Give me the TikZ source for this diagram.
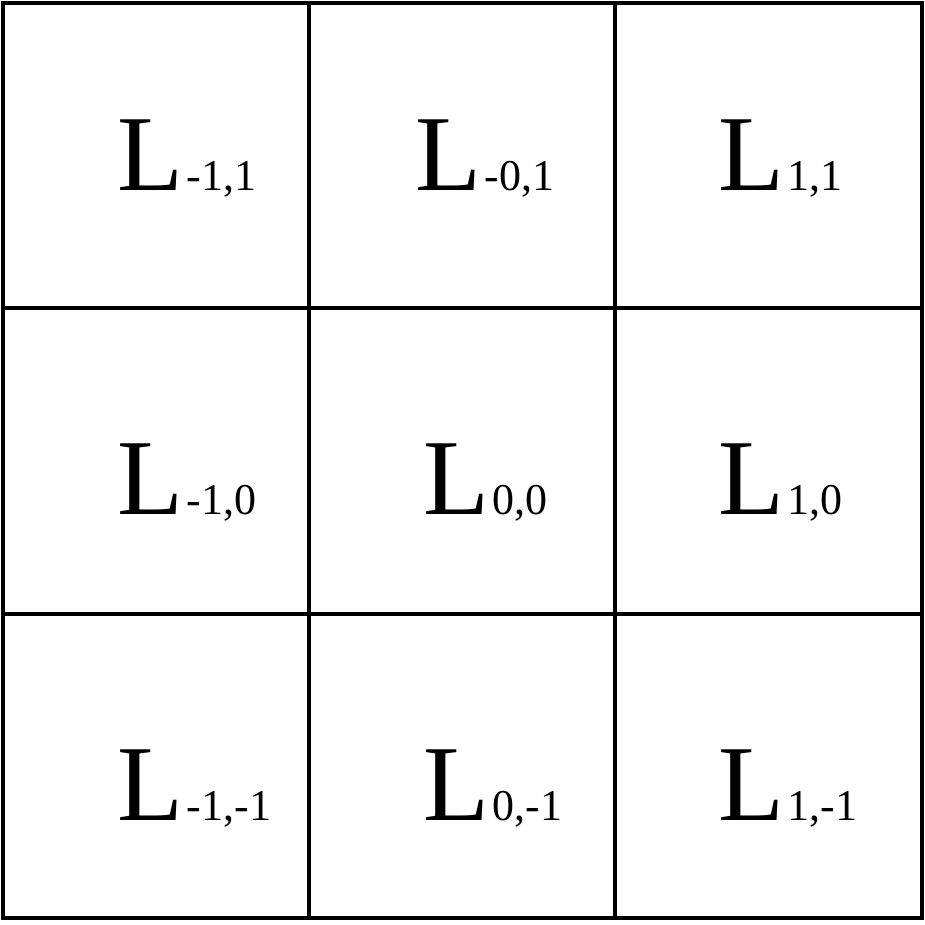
\documentclass[tikz,border=0pt]{standalone}
\usepackage{fontspec}
\setmainfont{Liberation Serif}
\newcommand{\cellname}[1]{{\fontsize{108}{108}\selectfont L}\kern3pt{\fontsize{44}{44}\selectfont #1}}
\begin{document}
\begin{tikzpicture}[x = 1pt, y = -1pt, line width = 3.5pt, label/.style = {anchor = base west, inner sep = 0pt}]

            \useasboundingbox (0, 0) rectangle (925, 924);

            \draw (3, 3) rectangle (922, 918);
            \draw (309, 3) -- (309, 918);
            \draw (615, 3) -- (615, 918);
            \draw (3, 308) -- (922, 308);
            \draw (3, 614) -- (922, 614);

            \node (l11) at (116, 190) [label] {\cellname{-1,1}};
            \node (l21) at (414, 190) [label] {\cellname{-0,1}};
            \node (l31) at (717, 190) [label] {\cellname{1,1}};

            \node (l12) at (116, 514) [label] {\cellname{-1,0}};
            \node (l22) at (422, 514) [label] {\cellname{0,0}};
            \node (l32) at (717, 514) [label] {\cellname{1,0}};

            \node (l13) at (116, 820) [label] {\cellname{-1,-1}};
            \node (l23) at (422, 820) [label] {\cellname{0,-1}};
            \node (l33) at (717, 820) [label] {\cellname{1,-1}};
        \end{tikzpicture}
\end{document}
